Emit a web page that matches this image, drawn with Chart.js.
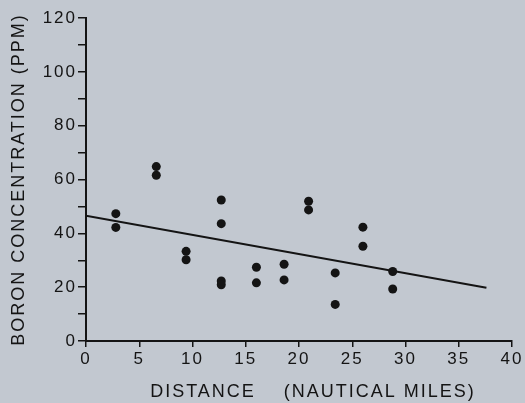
<!DOCTYPE html>
<html>
<head>
<meta charset="utf-8">
<script src="https://cdn.jsdelivr.net/npm/chart.js@4/dist/chart.umd.min.js"></script>
<style>
  html, body { margin: 0; padding: 0; background: #c2c8d0; }
  #wrap { width: 525px; height: 403px; }
</style>
</head>
<body>
<div id="wrap"><canvas id="c" width="525" height="403"></canvas></div>
<script>
// Distances (nautical miles) and boron concentration (ppm)
const distances = [2.8, 2.8, 6.6, 6.6, 9.4, 9.4, 12.7, 12.7, 12.7, 12.7, 16.0, 16.0, 18.6, 18.6, 20.9, 20.9, 23.4, 23.4, 26.0, 26.0, 28.8, 28.8];
const boron     = [47.3, 42.2, 64.8, 61.6, 33.3, 30.2, 52.4, 43.6, 22.3, 20.9, 27.4, 21.6, 28.5, 22.7, 51.9, 48.7, 25.3, 13.6, 42.3, 35.2, 25.8, 19.3];
// Regression line endpoints
const lineX = [0, 37.6];
const lineY = [46.5, 19.8];
const xTicks = [0, 5, 10, 15, 20, 25, 30, 35, 40];
const yTicks = [0, 10, 20, 30, 40, 50, 60, 70, 80, 90, 100, 110, 120];

const FONT = "'Liberation Sans', Arial, sans-serif";
const INK = '#141414';

const spacingPlugin = {
  id: 'spacing',
  beforeDraw(chart) { chart.ctx.letterSpacing = '2px'; },
  afterDraw(chart) { chart.ctx.letterSpacing = '0px'; }
};

new Chart(document.getElementById('c'), {
  type: 'scatter',
  data: {
    datasets: [
      {
        data: distances.map((x, i) => ({ x: x, y: boron[i] })),
        pointRadius: 4.5,
        pointBackgroundColor: INK,
        pointBorderColor: INK,
        pointBorderWidth: 0,
        showLine: false
      },
      {
        type: 'line',
        data: lineX.map((x, i) => ({ x: x, y: lineY[i] })),
        borderColor: INK,
        borderWidth: 2,
        pointRadius: 0,
        fill: false
      }
    ]
  },
  options: {
    responsive: false,
    animation: false,
    devicePixelRatio: 1,
    layout: { padding: { left: 0, right: 13, top: 18, bottom: 0 } },
    plugins: { legend: { display: false }, tooltip: { enabled: false } },
    scales: {
      x: {
        type: 'linear',
        min: 0, max: 40,
        afterBuildTicks(s) { s.ticks = xTicks.map(v => ({ value: v })); },
        afterFit(s) { s.height = 62; },
        border: { display: true, color: INK, width: 2 },
        grid: { drawOnChartArea: false, drawTicks: true, tickLength: 6, color: INK, lineWidth: 1.5 },
        ticks: { color: INK, font: { family: FONT, size: 17 }, padding: 2, maxRotation: 0, autoSkip: false },
        title: {
          display: true,
          text: '    DISTANCE    (NAUTICAL MILES)',
          color: INK,
          font: { family: FONT, size: 18 },
          padding: { top: 8, bottom: 0 }
        }
      },
      y: {
        type: 'linear',
        min: 0, max: 120,
        afterBuildTicks(s) { s.ticks = yTicks.map(v => ({ value: v })); },
        afterFit(s) { s.width = 86; },
        border: { display: true, color: INK, width: 2 },
        grid: { drawOnChartArea: false, drawTicks: true, tickLength: 8, color: INK, lineWidth: 1.5 },
        ticks: {
          color: INK, font: { family: FONT, size: 17 }, padding: 1, autoSkip: false,
          callback: v => (v % 20 === 0 ? String(v) : '')
        },
        title: {
          display: true,
          text: 'BORON CONCENTRATION (PPM)',
          color: INK,
          font: { family: FONT, size: 18 },
          padding: { top: 8, bottom: 0 }
        }
      }
    }
  },
  plugins: [spacingPlugin]
});
</script>
</body>
</html>
